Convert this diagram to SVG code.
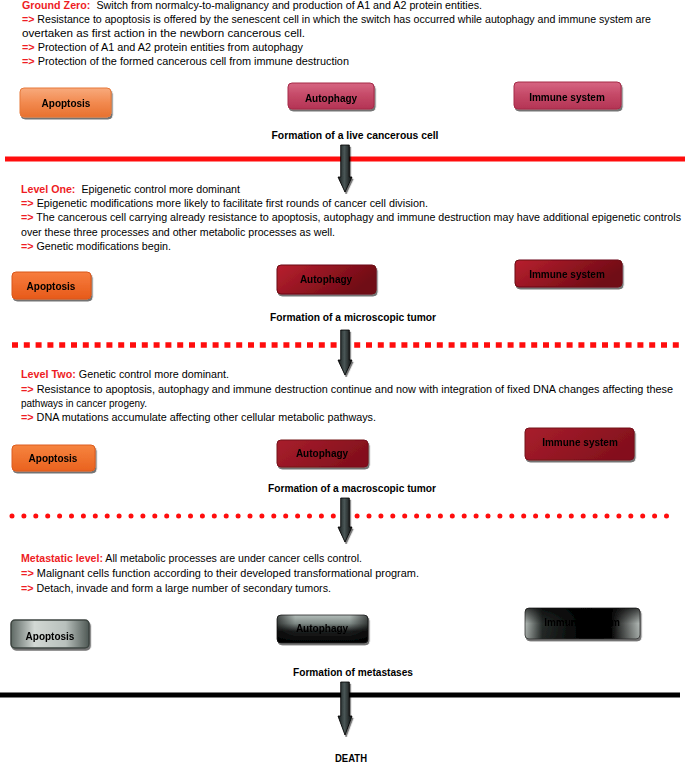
<svg xmlns="http://www.w3.org/2000/svg" width="685" height="762" viewBox="0 0 685 762">
<style>
.t{font-family:"Liberation Sans",Arial,sans-serif;font-size:10.5px;fill:#000}
.r{fill:#ee1c24;font-weight:bold}
.lbl{font-family:"Liberation Sans",Arial,sans-serif;font-size:10px;font-weight:bold;fill:#000;text-anchor:middle}
.bx{font-family:"Liberation Sans",Arial,sans-serif;font-size:10px;font-weight:bold;fill:#000;text-anchor:middle}
.arrow{fill:url(#gArrow);stroke:#000;stroke-width:0.8;filter:url(#sh)}
.box{filter:url(#sh)}
</style>
<defs>
<filter id="sh" x="-20%" y="-30%" width="140%" height="170%">
<feDropShadow dx="1.2" dy="2" stdDeviation="0.7" flood-color="#000" flood-opacity="0.55"/>
</filter>
<linearGradient id="gArrow" x1="0" y1="0" x2="1" y2="0">
<stop offset="0" stop-color="#141818"/>
<stop offset="0.45" stop-color="#4a5656"/>
<stop offset="1" stop-color="#0c0f0f"/>
</linearGradient>
<linearGradient id="gApo1" x1="0" y1="0" x2="0" y2="1">
<stop offset="0" stop-color="#f8aa7c"/>
<stop offset="0.5" stop-color="#f28a50"/>
<stop offset="1" stop-color="#e8712f"/>
</linearGradient>
<linearGradient id="gPink1" x1="0" y1="0" x2="0" y2="1">
<stop offset="0" stop-color="#d66582"/>
<stop offset="0.5" stop-color="#c44866"/>
<stop offset="1" stop-color="#b43455"/>
</linearGradient>
<linearGradient id="gApo2" x1="0" y1="0" x2="0" y2="1">
<stop offset="0" stop-color="#f77d3e"/>
<stop offset="1" stop-color="#e75a1a"/>
</linearGradient>
<linearGradient id="gRed2" x1="0" y1="0" x2="1" y2="0.4">
<stop offset="0" stop-color="#b8202f"/>
<stop offset="1" stop-color="#6f0a14"/>
</linearGradient>
<linearGradient id="gApo3" x1="0" y1="0" x2="0" y2="1">
<stop offset="0" stop-color="#f6843f"/>
<stop offset="1" stop-color="#e9621f"/>
</linearGradient>
<linearGradient id="gRed3" x1="0" y1="0" x2="1" y2="0.4">
<stop offset="0" stop-color="#a81e2c"/>
<stop offset="1" stop-color="#84101d"/>
</linearGradient>
<linearGradient id="gApo4" x1="0" y1="0" x2="1" y2="0">
<stop offset="0" stop-color="#5e6864"/>
<stop offset="0.3" stop-color="#d2d8d4"/>
<stop offset="0.7" stop-color="#b8c0bc"/>
<stop offset="1" stop-color="#4e5854"/>
</linearGradient>
<linearGradient id="gAut4" x1="0" y1="0" x2="0" y2="1">
<stop offset="0" stop-color="#b4beba"/>
<stop offset="0.3" stop-color="#7f8a86"/>
<stop offset="0.58" stop-color="#1c1e1e"/>
<stop offset="1" stop-color="#000"/>
</linearGradient>
<linearGradient id="gAut4h" x1="0" y1="0" x2="1" y2="0">
<stop offset="0" stop-color="#000" stop-opacity="0.6"/>
<stop offset="0.2" stop-color="#000" stop-opacity="0"/>
<stop offset="0.8" stop-color="#000" stop-opacity="0"/>
<stop offset="1" stop-color="#000" stop-opacity="0.6"/>
</linearGradient>
<linearGradient id="gImm4" x1="0" y1="0" x2="1" y2="0">
<stop offset="0" stop-color="#c4ccc8"/>
<stop offset="0.15" stop-color="#2a302e"/>
<stop offset="0.5" stop-color="#000"/>
<stop offset="0.75" stop-color="#050505"/>
<stop offset="1" stop-color="#c8d0cc"/>
</linearGradient>
<linearGradient id="gImm4v" x1="0" y1="0" x2="0" y2="1">
<stop offset="0" stop-color="#000" stop-opacity="0.7"/>
<stop offset="0.5" stop-color="#000" stop-opacity="0.1"/>
<stop offset="1" stop-color="#000" stop-opacity="0.2"/>
</linearGradient>
</defs>

<rect width="685" height="762" fill="#fff"/>

<!-- Ground Zero text -->
<g id="text-ground-zero">
<text class="t" x="22" y="9" textLength="460" lengthAdjust="spacingAndGlyphs"><tspan class="r">Ground Zero:</tspan><tspan dx="6">Switch from normalcy-to-malignancy and production of A1 and A2 protein entities.</tspan></text>
<text class="t" x="22" y="23" textLength="629" lengthAdjust="spacingAndGlyphs"><tspan class="r">=&gt;</tspan> Resistance to apoptosis is offered by the senescent cell in which the switch has occurred while autophagy and immune system are</text>
<text class="t" x="22" y="37" textLength="283" lengthAdjust="spacingAndGlyphs">overtaken as first action in the newborn cancerous cell.</text>
<text class="t" x="22" y="51" textLength="281" lengthAdjust="spacingAndGlyphs"><tspan class="r">=&gt;</tspan> Protection of A1 and A2 protein entities from autophagy</text>
<text class="t" x="22" y="65" textLength="327" lengthAdjust="spacingAndGlyphs"><tspan class="r">=&gt;</tspan> Protection of the formed cancerous cell from immune destruction</text>
</g>

<g id="apoptosis-1" class="box"><rect x="20" y="88" width="91" height="29" rx="4" fill="url(#gApo1)" stroke="#e6793a" stroke-width="1"/><text class="bx" x="66" y="106.5">Apoptosis</text></g>
<g id="autophagy-1" class="box"><rect x="288" y="83" width="86" height="26" rx="4" fill="url(#gPink1)" stroke="#a52a48" stroke-width="1"/><text class="bx" x="331" y="101.5">Autophagy</text></g>
<g id="immune-1" class="box"><rect x="514" y="82" width="107" height="27" rx="4" fill="url(#gPink1)" stroke="#a52a48" stroke-width="1"/><text class="bx" x="567" y="100.5">Immune system</text></g>
<g id="formation-1"><text class="lbl" x="355" y="138.5" textLength="167" lengthAdjust="spacingAndGlyphs">Formation of a live cancerous cell</text></g>

<!-- Level One text -->
<g id="text-level-one">
<text class="t" x="21" y="192.5" textLength="219" lengthAdjust="spacingAndGlyphs"><tspan class="r">Level One:</tspan><tspan dx="6">Epigenetic control more dominant</tspan></text>
<text class="t" x="21" y="206.5" textLength="407" lengthAdjust="spacingAndGlyphs"><tspan class="r">=&gt;</tspan> Epigenetic modifications more likely to facilitate first rounds of cancer cell division.</text>
<text class="t" x="21" y="221" textLength="660" lengthAdjust="spacingAndGlyphs"><tspan class="r">=&gt;</tspan> The cancerous cell carrying already resistance to apoptosis, autophagy and immune destruction may have additional epigenetic controls</text>
<text class="t" x="21" y="235.5" textLength="314" lengthAdjust="spacingAndGlyphs">over these three processes and other metabolic processes as well.</text>
<text class="t" x="21" y="250" textLength="150" lengthAdjust="spacingAndGlyphs"><tspan class="r">=&gt;</tspan> Genetic modifications begin.</text>
</g>

<g id="apoptosis-2" class="box"><rect x="12" y="272" width="79" height="27" rx="4" fill="url(#gApo2)" stroke="#d9561c" stroke-width="1"/><text class="bx" x="51" y="289.5">Apoptosis</text></g>
<g id="autophagy-2" class="box"><rect x="277" y="265" width="99" height="29" rx="4" fill="url(#gRed2)" stroke="#6a0a12" stroke-width="1"/><text class="bx" x="326" y="282.5">Autophagy</text></g>
<g id="immune-2" class="box"><rect x="515" y="260" width="107" height="27" rx="4" fill="url(#gRed2)" stroke="#6a0a12" stroke-width="1"/><text class="bx" x="567" y="277.5">Immune system</text></g>
<g id="formation-2"><text class="lbl" x="353" y="321" textLength="166" lengthAdjust="spacingAndGlyphs">Formation of a microscopic tumor</text></g>

<!-- Level Two text -->
<g id="text-level-two">
<text class="t" x="21" y="378" textLength="208" lengthAdjust="spacingAndGlyphs"><tspan class="r">Level Two:</tspan> Genetic control more dominant.</text>
<text class="t" x="21" y="392.5" textLength="652" lengthAdjust="spacingAndGlyphs"><tspan class="r">=&gt;</tspan> Resistance to apoptosis, autophagy and immune destruction continue and now with integration of fixed DNA changes affecting these</text>
<text class="t" x="21" y="406.5" textLength="126" lengthAdjust="spacingAndGlyphs">pathways in cancer progeny.</text>
<text class="t" x="21" y="421" textLength="355" lengthAdjust="spacingAndGlyphs"><tspan class="r">=&gt;</tspan> DNA mutations accumulate affecting other cellular metabolic pathways.</text>
</g>

<g id="apoptosis-3" class="box"><rect x="12" y="445" width="83" height="26" rx="4" fill="url(#gApo3)" stroke="#dc5c1e" stroke-width="1"/><text class="bx" x="53" y="461.5">Apoptosis</text></g>
<g id="autophagy-3" class="box"><rect x="277" y="440" width="91" height="27" rx="4" fill="url(#gRed3)" stroke="#74101a" stroke-width="1"/><text class="bx" x="322" y="456.5">Autophagy</text></g>
<g id="immune-3" class="box"><rect x="525" y="428" width="109" height="32" rx="4" fill="url(#gRed3)" stroke="#74101a" stroke-width="1"/><text class="bx" x="580" y="445.5">Immune system</text></g>
<g id="formation-3"><text class="lbl" x="352" y="491.5" textLength="168" lengthAdjust="spacingAndGlyphs">Formation of a macroscopic tumor</text></g>

<!-- Metastatic text -->
<g id="text-metastatic">
<text class="t" x="21" y="561.5" textLength="341" lengthAdjust="spacingAndGlyphs"><tspan class="r">Metastatic level:</tspan> All metabolic processes are under cancer cells control.</text>
<text class="t" x="21" y="576.5" textLength="398" lengthAdjust="spacingAndGlyphs"><tspan class="r">=&gt;</tspan> Malignant cells function according to their developed transformational program.</text>
<text class="t" x="21" y="591.5" textLength="310" lengthAdjust="spacingAndGlyphs"><tspan class="r">=&gt;</tspan> Detach, invade and form a large number of secondary tumors.</text>
</g>

<g id="apoptosis-4" class="box"><rect x="11" y="620" width="78" height="28" rx="4" fill="url(#gApo4)" stroke="#3c4440" stroke-width="1.5"/><text class="bx" x="50" y="639.5">Apoptosis</text></g>
<g id="autophagy-4" class="box"><rect x="277" y="615" width="91" height="28" rx="4" fill="url(#gAut4)" stroke="#222" stroke-width="0.8"/><rect x="277" y="615" width="91" height="28" rx="4" fill="url(#gAut4h)"/><text class="bx" x="322" y="631.5">Autophagy</text></g>
<g id="immune-4" class="box"><rect x="525" y="608" width="115" height="31" rx="4" fill="url(#gImm4)" stroke="#333" stroke-width="0.8"/><rect x="525" y="608" width="115" height="31" rx="4" fill="url(#gImm4v)"/><text class="bx" x="582" y="625.5">Immune system</text></g>
<g id="formation-4"><text class="lbl" x="353" y="676" textLength="120" lengthAdjust="spacingAndGlyphs">Formation of metastases</text></g>

<g id="death"><text class="lbl" x="351" y="761.5" textLength="32" lengthAdjust="spacingAndGlyphs">DEATH</text></g>

<!-- separators -->
<g id="separators">
<line x1="5" y1="159" x2="685" y2="159" stroke="#ff0d0d" stroke-width="5"/>
<line x1="12" y1="345" x2="680" y2="345" stroke="#ff0d0d" stroke-width="5.5" stroke-dasharray="6 5.8"/>
<line x1="12" y1="516" x2="670" y2="516" stroke="#ff0d0d" stroke-width="5" stroke-dasharray="0 11.9" stroke-linecap="round"/>
<line x1="0" y1="695" x2="680" y2="695" stroke="#000" stroke-width="5"/>
</g>

<!-- connectors -->
<g id="connectors">
<polygon class="arrow" points="340.7,145 349.3,145 349.3,177 352,177 345,192 338,177 340.7,177"/>
<polygon class="arrow" points="340.7,330 349.3,330 349.3,360 352,360 345,375 338,360 340.7,360"/>
<polygon class="arrow" points="340.7,498 349.3,498 349.3,527 352,527 345,542 338,527 340.7,527"/>
<polygon class="arrow" points="340.7,682 349.3,682 349.3,716 352,716 345,735 338,716 340.7,716"/>
</g>
</svg>
